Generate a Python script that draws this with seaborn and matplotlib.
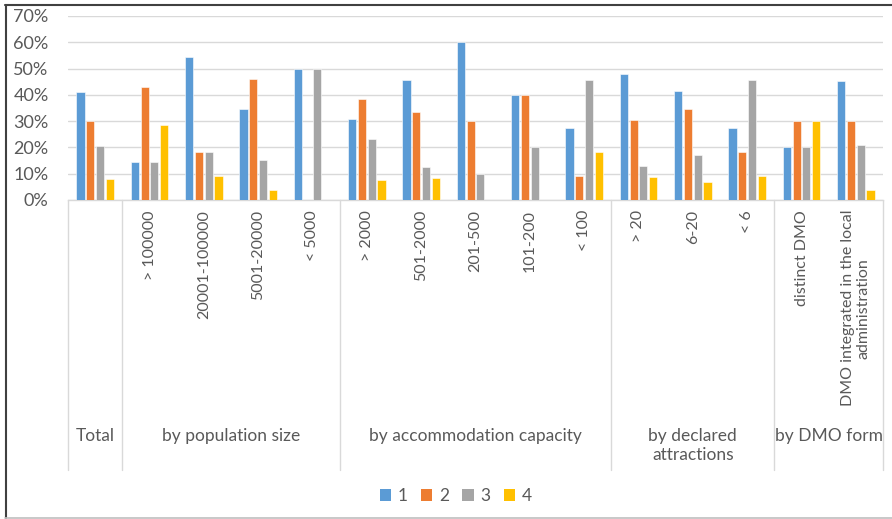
import matplotlib
matplotlib.use("Agg")
import matplotlib.pyplot as plt
from matplotlib.lines import Line2D
from matplotlib.patches import Patch
import seaborn as sns
import pandas as pd

# Categories (first level) and the groups they belong to (second level)
categories = ["Total", "> 100000", "20001-100000", "5001-20000", "< 5000",
              "> 2000", "501-2000", "201-500", "101-200", "< 100",
              "> 20", "6-20", "< 6",
              "distinct DMO", "DMO integrated in the local\nadministration"]
tick_labels = ["", "> 100000", "20001-100000", "5001-20000", "< 5000",
               "> 2000", "501-2000", "201-500", "101-200", "< 100",
               "> 20", "6-20", "< 6",
               "distinct DMO", "DMO integrated in the local\nadministration"]
groups = ["Total", "by population size", "by accommodation capacity",
          "by declared\nattractions", "by DMO form"]
group_sizes = [1, 4, 5, 3, 2]

series_names = ["1", "2", "3", "4"]
s1 = [0.412, 0.143, 0.545, 0.346, 0.50, 0.308, 0.458, 0.60, 0.40, 0.273, 0.478, 0.414, 0.273, 0.20, 0.452]
s2 = [0.302, 0.429, 0.182, 0.462, 0.00, 0.385, 0.333, 0.30, 0.40, 0.091, 0.304, 0.345, 0.182, 0.30, 0.302]
s3 = [0.205, 0.143, 0.182, 0.154, 0.50, 0.231, 0.125, 0.10, 0.20, 0.455, 0.130, 0.172, 0.455, 0.20, 0.208]
s4 = [0.081, 0.286, 0.091, 0.038, 0.00, 0.077, 0.083, 0.00, 0.00, 0.182, 0.087, 0.069, 0.091, 0.30, 0.038]
y_ticks = [0.0, 0.1, 0.2, 0.3, 0.4, 0.5, 0.6, 0.7]

colors = ["#5B9BD5", "#ED7D31", "#A5A5A5", "#FFC000"]
text_color = "#595959"
line_color = "#D9D9D9"

rows = []
for name, vals in zip(series_names, [s1, s2, s3, s4]):
    for cat, v in zip(categories, vals):
        rows.append({"category": cat, "series": name, "value": v})
df = pd.DataFrame(rows)

sns.set_style("white")
plt.rcParams["font.family"] = ["Lato", "DejaVu Sans"]

W, H = 892, 519
fig = plt.figure(figsize=(W / 100, H / 100), dpi=100)
left, right, top, bottom = 68, 883, 16, 200
ax = fig.add_axes([left / W, 1 - bottom / H, (right - left) / W, (bottom - top) / H])

sns.barplot(data=df, x="category", y="value", hue="series", order=categories,
            hue_order=series_names, palette=colors, saturation=1,
            width=0.72, gap=0.18, edgecolor="white", linewidth=0.4,
            ax=ax, legend=False, zorder=3)

ax.set_xlim(-0.5, len(categories) - 0.5)
ax.set_ylim(0, 0.70)
ax.set_yticks(y_ticks)
ax.set_yticklabels([f"{t:.0%}" for t in y_ticks], fontsize=13, color=text_color)
ax.tick_params(axis="y", length=0, pad=14)
ax.set_xticks([])
ax.set_xlabel("")
ax.set_ylabel("")
ax.grid(axis="y", color=line_color, linewidth=1.0, zorder=0)
ax.set_axisbelow(True)
for s in ["top", "right", "left"]:
    ax.spines[s].set_visible(False)
ax.spines["bottom"].set_color(line_color)
ax.spines["bottom"].set_linewidth(1.0)

xt = ax.get_xaxis_transform()
axes_h = bottom - top

def ay(py):
    # convert a pixel row below the axis to axes-fraction coordinates
    return -(py - bottom) / axes_h

# first-level category labels (rotated)
for i, lab in enumerate(tick_labels):
    if lab:
        ax.text(i, ay(210), lab, rotation=90, ha="center", va="top",
                multialignment="center", fontsize=11.5, color=text_color,
                transform=xt, clip_on=False, linespacing=1.1)

# group separators and group labels
edges = [-0.5]
for n in group_sizes:
    edges.append(edges[-1] + n)
for e in edges:
    ax.plot([e, e], [0, ay(470)], color=line_color, linewidth=1.0,
            transform=xt, clip_on=False)
for g, a, b in zip(groups, edges[:-1], edges[1:]):
    ax.text((a + b) / 2, ay(428), g, ha="center", va="top", fontsize=12.5,
            color=text_color, transform=xt, clip_on=False, linespacing=1.25)

# legend
handles = [Patch(facecolor=c, edgecolor="none") for c in colors]
fig.legend(handles, series_names, loc="center", bbox_to_anchor=(456 / W, 1 - 496 / H),
           ncol=4, frameon=False, fontsize=12.5, labelcolor=text_color,
           handlelength=0.65, handleheight=0.65, handletextpad=0.4,
           columnspacing=0.75)

# chart frame
fig.add_artist(Line2D([5 / W, 1], [1 - 4.5 / H, 1 - 4.5 / H], color="#404040", linewidth=1.5))
fig.add_artist(Line2D([5.5 / W, 5.5 / W], [1 - 4.5 / H, 1 - 518 / H], color="#404040", linewidth=1.5))
fig.add_artist(Line2D([5 / W, 1], [1 - 518 / H, 1 - 518 / H], color="#BFBFBF", linewidth=1.2))

fig.savefig("out.png", dpi=100)
